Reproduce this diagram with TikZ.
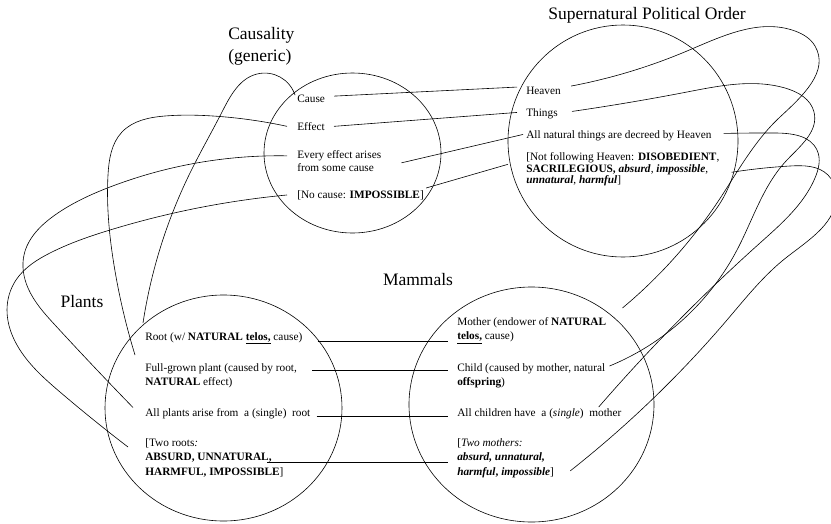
\documentclass[tikz,border=0pt]{standalone}
\usepackage{fontspec}
\setmainfont{Liberation Serif}
\usetikzlibrary{shapes.geometric}
\usetikzlibrary{hobby}

\begin{document}
\begin{tikzpicture}[x=1pt, y=-1pt, line width=0.6pt]
                \tikzstyle{realm} = [draw, ellipse, inner sep=0pt]
                \tikzstyle{heading} = [font=\fontsize{17.5}{22}\selectfont, inner sep=0pt]
                \tikzstyle{entry} = [font=\fontsize{11.3}{14.5}\selectfont, anchor=north west, align=left, inner sep=2pt]
                \useasboundingbox (0, 0) rectangle (831, 523);
                \clip (0, 0) rectangle (831, 523);
                \node[realm, minimum width=177pt, minimum height=160pt] (causal) at (352.5, 153) {};
                \node[realm, minimum width=230pt, minimum height=232pt] (supern) at (623, 141) {};
                \node[realm, minimum width=237pt, minimum height=226pt] (plants) at (223.5, 408) {};
                \node[realm, minimum width=245pt, minimum height=235pt] (mammals) at (531.5, 404.5) {};
                \node[heading, anchor=north west, align=left] (causalname) at (228, 27.5) {Causality\\(generic)};
                \node[heading] (supername) at (647, 15) {Supernatural Political Order};
                \node[heading] (plantsname) at (82, 302) {Plants};
                \node[heading] (mammalsname) at (418, 280) {Mammals};
                \node[entry] (cause) at (295, 93) {Cause};
                \node[entry] (effect) at (295, 120) {Effect};
                \node[entry, font=\fontsize{11.3}{13}\selectfont] (every) at (295, 148) {Every effect arises\\from some cause};
                \node[entry] (nocause) at (295, 188) {[No cause: \textbf{IMPOSSIBLE}]};
                \node[entry] (heaven) at (524, 85) {Heaven};
                \node[entry] (things) at (524, 106) {Things};
                \node[entry] (decreed) at (524, 128) {All natural things are decreed by Heaven};
                \node[entry, font=\fontsize{11.3}{11.8}\selectfont] (notfol) at (524, 150) {[Not following Heaven: \textbf{DISOBEDIENT},\\\textbf{SACRILEGIOUS,} \textbf{\textit{absurd}}, \textbf{\textit{impossible}},\\\textbf{\textit{unnatural}}, \textbf{\textit{harmful}}]};
                \node[entry] (root) at (143, 330) {Root (w/ \textbf{NATURAL} \underline{\textbf{telos,}} cause)};
                \node[entry] (grown) at (143, 361) {Full-grown plant (caused by root,\\\textbf{NATURAL} effect)};
                \node[entry] (allpl) at (143, 406) {All plants arise from~ a (single)~ root};
                \node[entry] (tworoots) at (143, 436) {[Two roots\textit{:}\\\textbf{ABSURD, UNNATURAL,}\\\textbf{HARMFUL, IMPOSSIBLE}]};
                \node[entry] (mother) at (455, 315) {Mother (endower of \textbf{NATURAL}\\\underline{\textbf{telos,}} cause)};
                \node[entry] (child) at (455, 361) {Child (caused by mother, natural\\\textbf{offspring})};
                \node[entry] (allch) at (455, 406) {All children have~ a (\textit{single})~ mother};
                \node[entry] (twomo) at (455, 436) {[\textit{Two mothers:}\\\textbf{\textit{absurd, unnatural,}}\\\textbf{\textit{harmful}, \textit{impossible}}]};
                \draw ([xshift=7pt, yshift=3pt]cause.east) -- ([xshift=-7pt, yshift=4pt]heaven.west);
                \draw ([xshift=7pt]effect.east) -- ([xshift=-7pt, yshift=1pt]things.west);
                \draw ([xshift=18pt, yshift=-2pt]every.east) -- ([xshift=-1pt, yshift=1pt]decreed.west);
                \draw (nocause.north east) -- ([xshift=-16pt, yshift=5pt]notfol.west);
                \coordinate (h1) at ([xshift=13pt, yshift=-3pt]root.east);
                \coordinate (h2) at ([xshift=13pt, yshift=-9pt]grown.north east);
                \coordinate (h3) at ([xshift=4pt, yshift=-3pt]allpl.east);
                \coordinate (h4) at ([xshift=124pt, yshift=-26pt]tworoots.north west);
                \draw[shorten >=7pt] (h1) -- (h1 -| mother.west);
                \draw[shorten >=7pt] (h2) -- (h2 -| child.west);
                \draw[shorten >=7pt] (h3) -- (h3 -| allch.west);
                \draw[shorten >=7pt] (h4) -- (h4 -| twomo.west);
                \draw[use Hobby shortcut] ([yshift=4pt]cause.west) .. (257, 74) .. (222, 112) .. (190, 173) .. ([yshift=7pt]root.north west);
                \draw[use Hobby shortcut] ([xshift=-8pt]effect.west) .. (213, 116) .. (165, 116) .. (122, 132) .. (108, 175) .. (114, 265) .. ([xshift=-8pt, yshift=6pt]grown.north west);
                \draw[use Hobby shortcut] ([xshift=-8pt, yshift=5pt]every.west) .. (110, 187) .. (55, 215) .. (24, 255) .. (28, 288) .. (55, 325) .. ([xshift=-10pt, yshift=6pt]allpl.west);
                \draw[use Hobby shortcut] ([xshift=-8pt]nocause.west) .. (110, 230) .. (50, 253) .. (16, 280) .. (7, 310) .. (20, 350) .. (60, 392) .. ([xshift=-15pt, yshift=-11pt]tworoots.north west);
                \draw[use Hobby shortcut] ([xshift=8pt, yshift=5pt]heaven.east) .. (687, 51) .. (795, 31) .. (815, 46) .. (780, 117) .. (717, 203) .. ([xshift=14pt, yshift=7pt]mother.north east);
                \draw[use Hobby shortcut] ([xshift=12pt, yshift=2pt]things.east) .. (687, 92) .. (785, 88) .. (814, 112) .. (787, 160) .. (737, 250) .. ([xshift=2pt, yshift=-5pt]child.north east);
                \draw[use Hobby shortcut] ([xshift=10pt, yshift=2pt]decreed.east) .. (775, 133) .. (817, 150) .. (815, 178) .. (760, 243) .. ([xshift=-25pt, yshift=-1pt]allch.north east);
                \draw[use Hobby shortcut] ([xshift=10pt, yshift=-3pt]notfol.east) .. (790, 166) .. (828, 175) .. (836, 193) .. (787, 257) .. (727, 320) .. ([xshift=14pt, yshift=9pt]twomo.south east);
            \end{tikzpicture}
\end{document}
